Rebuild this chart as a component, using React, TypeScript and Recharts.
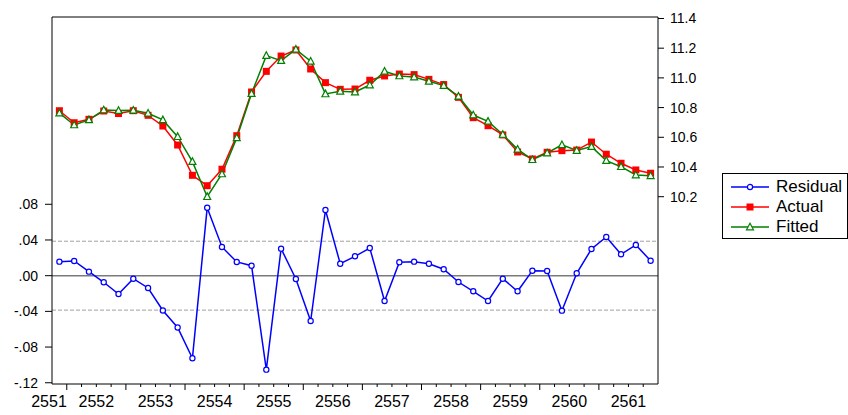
import { LineChart, Line, XAxis, YAxis, ReferenceLine, Legend } from 'recharts';

// quarterly, 2551Q4 .. 2561Q4
const years = ['2551', '2552', '2553', '2554', '2555', '2556', '2557', '2558', '2559', '2560', '2561'];

const residual = [
  0.0157, 0.0165, 0.0045, -0.0074, -0.0205, -0.0034, -0.0138, -0.039, -0.058, -0.0926,
  0.0762, 0.0322, 0.0154, 0.0112, -0.1053, 0.0303, -0.0037, -0.0508, 0.0736, 0.0134,
  0.0217, 0.031, -0.0284, 0.015, 0.0157, 0.0134, 0.0072, -0.0071, -0.0175, -0.0284,
  -0.0034, -0.0175, 0.0056, 0.0053, -0.0392, 0.0027, 0.0299, 0.0434, 0.024, 0.0344,
  0.0168,
];

const actual = [
  10.779, 10.698, 10.721, 10.777, 10.76, 10.779, 10.748, 10.676, 10.548, 10.344,
  10.274, 10.385, 10.611, 10.905, 11.044, 11.147, 11.188, 11.06, 10.968, 10.923,
  10.925, 10.984, 11.013, 11.026, 11.022, 10.99, 10.955, 10.869, 10.732, 10.678,
  10.616, 10.501, 10.454, 10.499, 10.51, 10.514, 10.568, 10.486, 10.425, 10.38,
  10.358,
];

const fitted = [
  10.763, 10.683, 10.717, 10.784, 10.78, 10.782, 10.762, 10.717, 10.604, 10.436,
  10.2, 10.353, 10.596, 10.894, 11.15, 11.116, 11.192, 11.112, 10.892, 10.91,
  10.905, 10.952, 11.044, 11.013, 11.006, 10.977, 10.948, 10.876, 10.75, 10.707,
  10.619, 10.519, 10.449, 10.494, 10.549, 10.511, 10.537, 10.443, 10.402, 10.346,
  10.341,
];

const leftTicks = [-0.12, -0.08, -0.04, 0, 0.04, 0.08];
const rightTicks = [10.2, 10.4, 10.6, 10.8, 11.0, 11.2, 11.4];
const seBand = 0.0386;

const LEFT_DOMAIN = [-0.1214, 0.2899];
const RIGHT_DOMAIN = [8.9387, 11.41];

const FONT = '"Liberation Sans", Arial, sans-serif';

const data = residual.map((r, i) => ({ t: i, residual: r, actual: actual[i], fitted: fitted[i] }));

// quarter boundaries, plus the left edge for the partial first year
const xTicks = [-0.5, ...residual.slice(1).map((_, i) => i + 0.5)];

function XTick(props: any) {
  const { x, y, payload } = props;
  const v = payload.value;
  if (v < 0) {
    return (
      <text x={x - 3} y={y + 23} textAnchor="middle" fontSize={16} fontFamily={FONT} fill="#000">
        {years[0]}
      </text>
    );
  }
  const major = (v - 0.5) % 4 === 0;
  const li = (v - 2.5) / 4;
  const isLabel = Number.isInteger(li);
  return (
    <g>
      <line x1={x} x2={x} y1={y} y2={y + (major ? 6 : 3)} stroke="#000" />
      {isLabel && (
        <text x={x} y={y + 23} textAnchor="middle" fontSize={16} fontFamily={FONT} fill="#000">
          {years[li + 1]}
        </text>
      )}
    </g>
  );
}

const fmtLeft = (v: number) => (v < 0 ? '-' : '') + Math.abs(v).toFixed(2).replace(/^0/, '');

const ResidDot = (p: any) => (
  <circle key={`r${p.index}`} cx={p.cx} cy={p.cy} r={2.6} fill="#fff" stroke="#0000ff" strokeWidth={1.2} />
);
const ActualDot = (p: any) => (
  <rect key={`a${p.index}`} x={p.cx - 3.5} y={p.cy - 3.5} width={7} height={7} fill="#ff0000" />
);
const FittedDot = (p: any) => (
  <polygon
    key={`f${p.index}`}
    points={`${p.cx},${p.cy - 3.8} ${p.cx - 3.5},${p.cy + 2.8} ${p.cx + 3.5},${p.cy + 2.8}`}
    fill="#fff"
    stroke="#008000"
    strokeWidth={1.2}
  />
);

function LegendBox() {
  const rows = [
    { name: 'Residual', color: '#0000ff', mark: <circle cx={19} cy={6} r={2.6} fill="#fff" stroke="#0000ff" strokeWidth={1.2} /> },
    { name: 'Actual', color: '#ff0000', mark: <rect x={15.5} y={2.5} width={7} height={7} fill="#ff0000" /> },
    { name: 'Fitted', color: '#008000', mark: <polygon points="19,2.2 15.5,8.8 22.5,8.8" fill="#fff" stroke="#008000" strokeWidth={1.2} /> },
  ];
  return (
    <div
      style={{
        border: '1px solid #000',
        background: '#fff',
        width: 124,
        paddingTop: 3,
        paddingBottom: 1,
        boxSizing: 'content-box',
        fontFamily: FONT,
      }}
    >
      {rows.map((r) => (
        <div key={r.name} style={{ display: 'flex', alignItems: 'center', height: 20, paddingLeft: 8 }}>
          <svg width={38} height={12} style={{ marginRight: 7 }}>
            <line x1={0} x2={38} y1={6} y2={6} stroke={r.color} strokeWidth={1.5} />
            {r.mark}
          </svg>
          <span style={{ fontSize: 17, color: '#000', lineHeight: '20px', whiteSpace: 'nowrap' }}>{r.name}</span>
        </div>
      ))}
    </div>
  );
}

export default function App() {
  return (
    <div style={{ position: 'absolute', left: 0, top: 0 }}>
      <LineChart width={848} height={415} data={data} margin={{ top: 17, right: 0, bottom: 0, left: 0 }}>
        <XAxis
          dataKey="t"
          type="number"
          domain={[-0.5, 40.5]}
          ticks={xTicks}
          interval={0}
          allowDataOverflow
          height={31}
          tickLine={false}
          tickSize={0}
          tickMargin={0}
          tick={<XTick />}
          axisLine={{ stroke: '#000' }}
        />
        <YAxis
          yAxisId="left"
          orientation="left"
          width={52}
          domain={LEFT_DOMAIN}
          ticks={leftTicks}
          interval={0}
          allowDataOverflow
          tickFormatter={fmtLeft}
          tickSize={7}
          tickMargin={7}
          tickLine={{ stroke: '#000' }}
          axisLine={{ stroke: '#000' }}
          tick={{ fill: '#000', fontSize: 14, fontFamily: FONT }}
        />
        <YAxis
          yAxisId="right"
          orientation="right"
          width={190}
          domain={RIGHT_DOMAIN}
          ticks={rightTicks}
          interval={0}
          allowDataOverflow
          tickFormatter={(v: number) => v.toFixed(1)}
          tickSize={6}
          tickMargin={6}
          tickLine={{ stroke: '#000' }}
          axisLine={{ stroke: '#000' }}
          tick={{ fill: '#000', fontSize: 14, fontFamily: FONT }}
        />
        <ReferenceLine yAxisId="right" y={RIGHT_DOMAIN[1]} stroke="#000" />
        <ReferenceLine yAxisId="left" y={seBand} stroke="#a0a0a0" strokeDasharray="4 2" />
        <ReferenceLine yAxisId="left" y={-seBand} stroke="#a0a0a0" strokeDasharray="4 2" />
        <ReferenceLine yAxisId="left" y={0} stroke="#7a7a7a" strokeWidth={1.5} />
        <Line
          yAxisId="left"
          dataKey="residual"
          stroke="#0000ff"
          strokeWidth={1.5}
          dot={ResidDot}
          isAnimationActive={false}
        />
        <Line
          yAxisId="right"
          dataKey="actual"
          stroke="#ff0000"
          strokeWidth={1.5}
          dot={ActualDot}
          isAnimationActive={false}
        />
        <Line
          yAxisId="right"
          dataKey="fitted"
          stroke="#008000"
          strokeWidth={1.5}
          dot={FittedDot}
          isAnimationActive={false}
        />
        <Legend
          layout="vertical"
          align="center"
          verticalAlign="middle"
          wrapperStyle={{ left: 722, top: 173, width: 126 }}
          content={() => <LegendBox />}
        />
      </LineChart>
    </div>
  );
}
